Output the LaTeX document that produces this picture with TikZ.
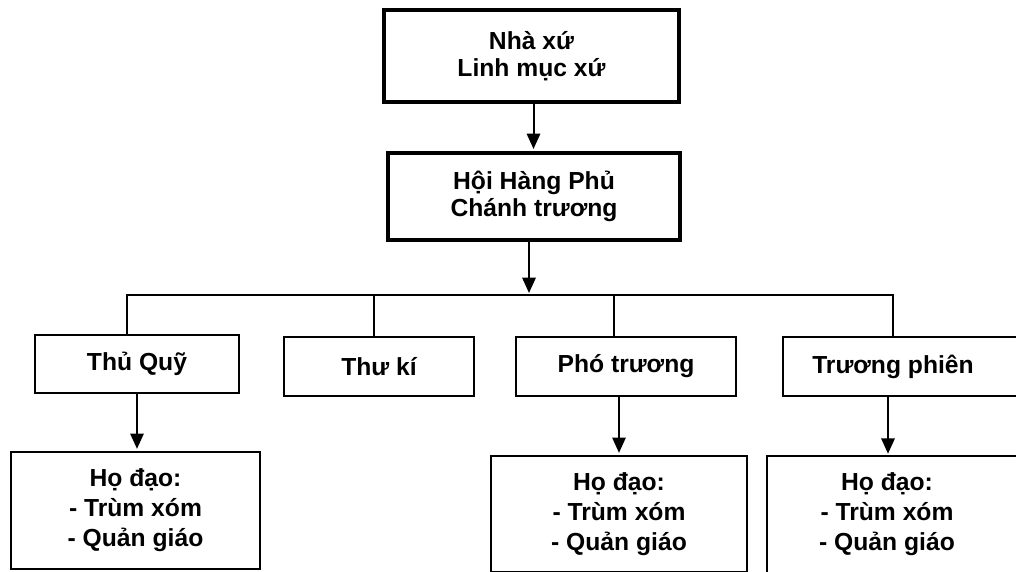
\documentclass[tikz,border=0pt]{standalone}
\usepackage{fontspec}
\setmainfont{Liberation Sans}
\usetikzlibrary{arrows.meta,calc}
\begin{document}
\begin{tikzpicture}[x=0.75pt,y=-0.75pt,
  every node/.style={font=\fontsize{18.5pt}{20.5pt}\selectfont\bfseries, align=center, inner sep=0pt},
  unitbox/.style={draw, line width=1.7pt},
  grpbox/.style={draw, line width=1.7pt, font=\fontsize{18.5pt}{22.5pt}\selectfont\bfseries},
  link/.style={line width=1.5pt},
  arr/.style={line width=1.5pt, -{Triangle[length=11.5pt,width=10pt]}, shorten >=1.5pt}
]
\useasboundingbox (0,0) rectangle (1016,571);
\clip (0,0) rectangle (1016,571);

% top levels
\node[draw, line width=3pt, minimum width=295*0.75pt, minimum height=92*0.75pt] (nx) at (531.5,56) {Nhà xứ\\Linh mục xứ};
\node[draw, line width=3pt, minimum width=292*0.75pt, minimum height=87*0.75pt] (hhp) at (534,196.5) {Hội Hàng Phủ\\Chánh trương};

% second level
\node[unitbox, minimum width=204*0.75pt, minimum height=58*0.75pt] (tq) at (137,364) {Thủ Quỹ};
\node[unitbox, minimum width=190*0.75pt, minimum height=59*0.75pt] (tk) at (379,366.5) {Thư kí};
\node[unitbox, minimum width=220*0.75pt, minimum height=59*0.75pt] (pt) at (626,366.5) {Phó trương};
\node[minimum width=220*0.75pt, minimum height=59*0.75pt] (tp) at (893,366.5) {Trương phiên};
\draw[line width=1.7pt] (tp.north west) -- ($(tp.north east)+(40,0)$) -- ($(tp.south east)+(40,0)$) -- (tp.south west) -- cycle;

% third level
\node[grpbox, minimum width=249*0.75pt, minimum height=117*0.75pt] (hd1) at (135.5,510.5) {Họ đạo:\\- Trùm xóm\\- Quản giáo};
\node[grpbox, minimum width=256*0.75pt, minimum height=116*0.75pt] (hd2) at (619,514) {Họ đạo:\\- Trùm xóm\\- Quản giáo};
\node[font=\fontsize{18.5pt}{22.5pt}\selectfont\bfseries, minimum width=240*0.75pt, minimum height=116*0.75pt] (hd3) at (887,514) {Họ đạo:\\- Trùm xóm\\- Quản giáo};
\draw[line width=1.7pt] (hd3.south west) -- (hd3.north west) -- ($(hd3.north east)+(40,0)$) -- ($(hd3.south east)+(40,0)$);

% connectors
\coordinate (busc) at (529,295);
\coordinate (busL) at (127,295);
\coordinate (busR) at (893,295);
\coordinate (dropTP) at (888,0);
\draw[arr] ([xshift=1.5]nx.south) -- ([xshift=1.5]nx.south |- hhp.north);
\draw[arr] (hhp.south -| busc) -- (busc);
\draw[link] (tq.north -| busL) -- (busL) -- (busR) -- (tp.north);
\draw[link] ([xshift=-4]tk.north) -- ([xshift=-4]tk.north |- busL);
\draw[link] ([xshift=-9]pt.north) -- ([xshift=-9]pt.north |- busL);
\draw[arr] (tq.south) -- (tq.south |- hd1.north);
\draw[arr] (pt.south -| hd2.north) -- (hd2.north);
\draw[arr] (tp.south -| dropTP) -- (hd3.north -| dropTP);
\end{tikzpicture}
\end{document}
